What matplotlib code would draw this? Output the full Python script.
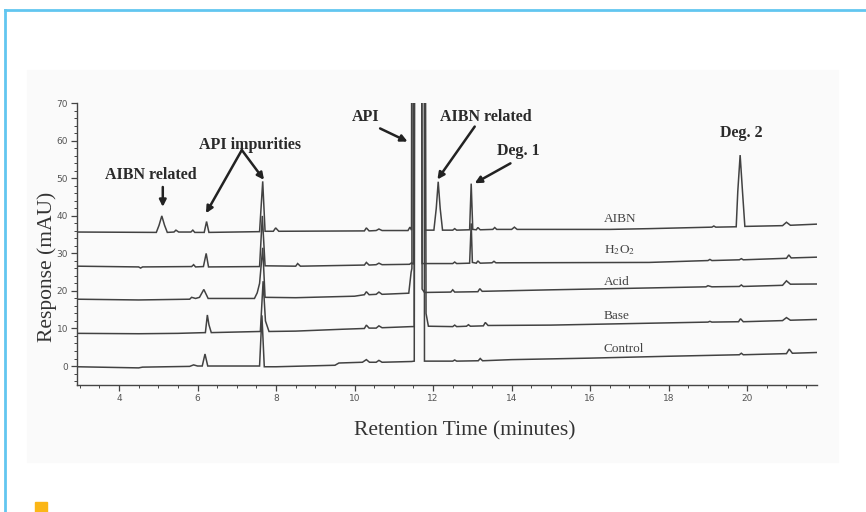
import matplotlib
matplotlib.use("Agg")
import matplotlib.pyplot as plt
from matplotlib.patches import Rectangle
from matplotlib.lines import Line2D
from matplotlib.ticker import MultipleLocator

# chromatogram traces: retention time (min), response (mAU)
# API peak runs far off scale, so its apex is just set high and clipped
aibn_t = [2.93, 4.95, 5.02, 5.09, 5.16, 5.23, 5.40, 5.45, 5.52, 5.83, 5.88, 5.93,
          6.17, 6.23, 6.29, 7.58, 7.66, 7.72, 7.93, 7.99, 8.07, 10.25, 10.30, 10.37,
          10.55, 10.62, 10.70, 11.36, 11.41, 11.45, 11.47, 11.76, 11.79, 12.02, 12.08,
          12.13, 12.18, 12.24, 12.50, 12.55, 12.60, 12.93, 12.97, 13.01, 13.10, 13.14,
          13.20, 13.52, 13.57, 13.62, 14.00, 14.07, 14.14, 16.50, 17.50, 19.10, 19.15,
          19.20, 19.72, 19.76, 19.82, 19.88, 19.94, 20.90, 21.00, 21.10, 21.77]
aibn_y = [35.7, 35.6, 37.5, 40.0, 37.5, 35.6, 35.7, 36.2, 35.7, 35.7, 36.2, 35.6,
          35.6, 38.5, 35.6, 35.8, 49.2, 35.9, 35.9, 36.8, 35.9, 36.0, 36.8, 36.0,
          36.1, 36.5, 36.1, 36.1, 37.0, 36.2, 300, 300, 36.2, 36.2, 42.0,
          49.1, 42.0, 36.2, 36.2, 36.6, 36.2, 36.3, 48.6, 36.4, 36.3, 36.9,
          36.3, 36.4, 36.9, 36.4, 36.4, 37.0, 36.4, 36.4, 36.6, 37.0, 37.3,
          37.0, 37.1, 46.5, 56.2, 46.5, 37.2, 37.4, 38.3, 37.5, 37.8]

h2o2_t = [2.93, 4.50, 4.55, 4.60, 5.85, 5.90, 5.95, 6.15, 6.22, 6.28, 7.58, 7.65,
          7.72, 8.50, 8.55, 8.62, 10.25, 10.30, 10.37, 10.55, 10.62, 10.70, 11.40,
          11.45, 11.50, 11.54, 11.68, 11.72, 12.50, 12.55, 12.60, 12.93, 12.97, 13.00,
          13.10, 13.14, 13.20, 13.50, 13.55, 13.60, 17.50, 19.00, 19.05, 19.10, 19.80,
          19.85, 19.90, 21.00, 21.06, 21.12, 21.77]
h2o2_y = [26.6, 26.4, 26.1, 26.4, 26.5, 27.0, 26.4, 26.5, 30.0, 26.4, 26.5, 40.0,
          26.7, 26.6, 27.3, 26.6, 26.9, 27.6, 26.9, 27.0, 27.4, 27.0, 27.1,
          27.5, 27.1, 300, 300, 27.3, 27.3, 27.7, 27.3, 27.4, 38.0, 27.6,
          27.4, 28.0, 27.4, 27.5, 27.9, 27.5, 27.6, 28.1, 28.4, 28.1, 28.3,
          28.6, 28.3, 28.7, 29.6, 28.8, 29.0]

acid_t = [2.93, 4.50, 5.80, 5.85, 5.95, 6.05, 6.16, 6.27, 7.45, 7.52, 7.58, 7.66,
          7.72, 8.50, 10.00, 10.25, 10.30, 10.37, 10.55, 10.62, 10.70, 11.38, 11.44,
          11.46, 11.47, 11.68, 11.72, 11.78, 12.45, 12.50, 12.55, 13.14, 13.19, 13.25,
          15.00, 17.50, 18.95, 19.00, 19.10, 19.80, 19.85, 19.90, 20.90, 21.00, 21.10,
          21.77]
acid_y = [17.8, 17.6, 17.8, 18.3, 18.0, 18.3, 20.4, 18.0, 18.0, 19.5, 22.0, 31.5,
          18.3, 18.2, 18.6, 19.0, 19.8, 19.0, 19.1, 19.7, 19.1, 19.4, 25.0,
          26.0, 300, 300, 20.5, 19.6, 19.7, 20.3, 19.7, 19.8, 20.6, 19.9,
          20.3, 20.8, 21.1, 21.4, 21.1, 21.2, 21.6, 21.2, 21.5, 22.7, 21.8,
          21.85]

base_t = [2.93, 4.50, 5.50, 6.20, 6.25, 6.29, 6.35, 7.60, 7.67, 7.73, 7.82, 8.50,
          9.70, 10.25, 10.30, 10.37, 10.55, 10.62, 10.70, 11.45, 11.52, 11.54, 11.76,
          11.82, 11.88, 12.50, 12.55, 12.60, 12.85, 12.90, 12.95, 13.28, 13.33, 13.40,
          15.00, 17.00, 19.00, 19.05, 19.10, 19.78, 19.83, 19.90, 20.90, 21.00, 21.10,
          21.77]
base_y = [8.7, 8.6, 8.7, 8.9, 13.6, 11.0, 8.9, 9.2, 22.6, 12.0, 9.2, 9.3,
          9.8, 10.0, 10.9, 10.1, 10.1, 10.7, 10.2, 10.5, 10.5, 300, 300,
          14.0, 10.6, 10.5, 10.9, 10.5, 10.6, 11.0, 10.6, 10.7, 11.6, 10.8,
          10.9, 11.3, 11.7, 11.9, 11.7, 11.8, 12.6, 11.8, 12.1, 12.9, 12.2,
          12.4]

control_t = [2.93, 4.50, 4.60, 5.80, 5.90, 6.00, 6.12, 6.19, 6.26, 7.58, 7.64, 7.70,
             8.00, 9.50, 9.60, 10.20, 10.30, 10.38, 10.55, 10.62, 10.70, 11.45, 11.52,
             11.54, 11.76, 11.78, 12.50, 12.55, 12.60, 13.15, 13.20, 13.26, 14.00,
             16.00, 18.00, 19.80, 19.85, 19.90, 21.00, 21.07, 21.15, 21.77]
control_y = [-0.2, -0.5, -0.3, -0.1, 0.3, 0.0, 0.0, 3.2, 0.0, 0.0, 13.5, -0.2,
             -0.2, 0.2, 0.8, 1.0, 1.7, 1.0, 1.0, 1.5, 1.0, 1.2, 1.3,
             300, 300, 1.3, 1.3, 1.6, 1.3, 1.4, 2.0, 1.4, 1.7,
             2.1, 2.6, 3.0, 3.4, 3.0, 3.3, 4.5, 3.4, 3.6]

trace_names = ["AIBN", r"H$_2$O$_2$", "Acid", "Base", "Control"]
name_y = [39.2, 31.0, 22.3, 13.2, 4.5]

plt.rcParams["mathtext.fontset"] = "stix"
serif = "Liberation Serif"
ink = "#424242"

fig = plt.figure(figsize=(8.66, 5.12), dpi=100)

# page decoration: grey panel, blue frame, orange marker
fig.patches.append(Rectangle((27 / 866, 1 - 462 / 512), 811 / 866, 392 / 512,
                             transform=fig.transFigure, color="#fafafa", zorder=0))
fig.lines.append(Line2D([5 / 866, 1], [1 - 10 / 512, 1 - 10 / 512],
                        transform=fig.transFigure, color="#62c6f0", lw=2))
fig.lines.append(Line2D([5 / 866, 5 / 866], [0, 1 - 10 / 512],
                        transform=fig.transFigure, color="#62c6f0", lw=2))
fig.patches.append(Rectangle((35 / 866, 0), 12 / 866, 10 / 512,
                             transform=fig.transFigure, color="#fbb616", zorder=1))

ax = fig.add_axes([77 / 866, 1 - 385 / 512, 739.7 / 866, 281.7 / 512])
ax.set_zorder(3)
ax.set_facecolor("none")

for t, y in [(aibn_t, aibn_y), (h2o2_t, h2o2_y), (acid_t, acid_y),
             (base_t, base_y), (control_t, control_y)]:
    ax.plot(t, y, color=ink, lw=1.1, solid_joinstyle="miter")

for name, y in zip(trace_names, name_y):
    ax.text(16.34, y, name, fontsize=9.5, family=serif, color="#444444",
            ha="left", va="center")

ax.set_xlim(2.93, 21.77)
ax.set_ylim(-5.06, 70)
ax.spines["top"].set_visible(False)
ax.spines["right"].set_visible(False)
for s in ("left", "bottom"):
    ax.spines[s].set_color("#444444")
    ax.spines[s].set_linewidth(1.0)

ax.set_xticks([4, 6, 8, 10, 12, 14, 16, 18, 20])
ax.set_yticks([0, 10, 20, 30, 40, 50, 60, 70])
ax.xaxis.set_minor_locator(MultipleLocator(0.5))
ax.yaxis.set_minor_locator(MultipleLocator(2))
ax.tick_params(which="major", direction="out", length=4, width=0.9,
               color="#444444", labelsize=6.5, labelcolor="#555555", pad=2.5)
ax.tick_params(which="minor", direction="out", length=2, width=0.7, color="#444444")

ax.text(0.524, -0.163, "Retention Time (minutes)", transform=ax.transAxes,
        fontsize=15.5, family=serif, color="#333333", ha="center", va="center")
ax.text(-0.041, 0.419, "Response (mAU)", transform=ax.transAxes, rotation=90,
        fontsize=15.5, family=serif, color="#333333", ha="center", va="center")

# peak annotations
lab = dict(fontsize=11.5, family=serif, fontweight="bold", color="#2a2a2a",
           ha="center", va="center")
arr = dict(arrowstyle="-|>", color="#222222", lw=1.8, mutation_scale=10,
           shrinkA=0, shrinkB=0)

ax.text(4.816, 50.9, "AIBN related", **lab)
ax.annotate("", xy=(5.115, 42.4), xytext=(5.115, 47.7), arrowprops=arr)

ax.text(7.338, 58.9, "API impurities", **lab)
ax.annotate("", xy=(6.215, 40.7), xytext=(7.128, 57.55), arrowprops=arr)
ax.annotate("", xy=(7.693, 49.6), xytext=(7.128, 57.55), arrowprops=arr)

ax.text(10.28, 66.4, "API", **lab)
ax.annotate("", xy=(11.35, 59.8), xytext=(10.65, 63.3), arrowprops=arr)

ax.text(13.333, 66.4, "AIBN related", **lab)
ax.annotate("", xy=(12.11, 49.7), xytext=(13.06, 63.8), arrowprops=arr)

ax.text(14.165, 57.4, "Deg. 1", **lab)
ax.annotate("", xy=(13.06, 48.7), xytext=(13.97, 54.0), arrowprops=arr)

ax.text(19.86, 62.0, "Deg. 2", **lab)

fig.savefig("out.png", dpi=100)
